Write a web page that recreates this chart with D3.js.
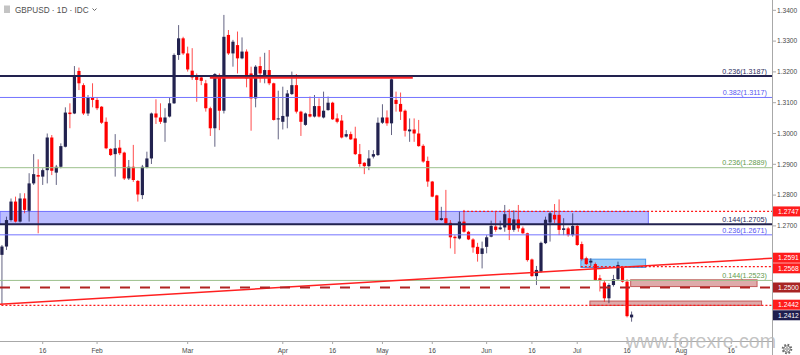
<!DOCTYPE html>
<html><head><meta charset="utf-8">
<script src="https://cdn.jsdelivr.net/npm/d3@7"></script>
<style>
body{margin:0;background:#fff;}
svg{display:block;font-family:"Liberation Sans",Arial,sans-serif;}
</style>
</head><body>
<svg id="chart" width="800" height="355"></svg>
<script>
// ---- Daily GBPUSD candles, 3 Jan 2019 (index 0) .. 17 Jul 2019 (index 139) ----
const opens = [1.2606,1.2633,1.2719,1.2779,1.2714,1.2789,1.2749,1.2838,1.2865,1.2860,
1.2881,1.2987,1.2873,1.2892,1.2957,1.3068,1.3065,1.3203,1.3157,1.3065,
1.3117,1.3109,1.3087,1.3038,1.2950,1.2933,1.2954,1.2938,1.2854,1.2892,
1.2846,1.2800,1.2890,1.2919,1.3065,1.3052,1.3035,1.3055,1.3098,1.3255,
1.3309,1.3260,1.3204,1.3184,1.3182,1.3163,1.3082,1.3017,1.3190,1.3074,
1.3320,1.3260,1.3287,1.3244,1.3266,1.3195,1.3114,1.3219,1.3190,1.3206,
1.3163,1.3046,1.3038,1.3055,1.3128,1.3157,1.3071,1.3028,1.3063,1.3055,
1.3089,1.3052,1.3076,1.3100,1.3049,1.3042,1.2990,1.2998,1.2984,1.2933,
1.2905,1.2894,1.2925,1.2930,1.3035,1.3052,1.3033,1.3109,1.3096,1.3074,
1.3007,1.3013,1.3000,1.2960,1.2911,1.2844,1.2799,1.2719,1.2725,1.2710,
1.2665,1.2659,1.2714,1.2681,1.2656,1.2632,1.2609,1.2632,1.2665,1.2698,
1.2689,1.2695,1.2725,1.2687,1.2721,1.2692,1.2676,1.2591,1.2537,1.2551,
1.2644,1.2711,1.2736,1.2736,1.2687,1.2692,1.2670,1.2700,1.2641,1.2595,
1.2581,1.2576,1.2530,1.2516,1.2465,1.2508,1.2527,1.2565,1.2519,1.2403];

const highs = [1.2638,1.2730,1.2789,1.2795,1.2806,1.2806,1.2871,1.2933,1.2916,1.2887,
1.3000,1.2995,1.2898,1.2968,1.3085,1.3098,1.3219,1.3214,1.3163,1.3125,
1.3163,1.3117,1.3089,1.3052,1.2952,1.2998,1.2979,1.2941,1.2914,1.2963,
1.2849,1.2898,1.2941,1.3068,1.3111,1.3098,1.3082,1.3117,1.3260,1.3352,
1.3314,1.3282,1.3277,1.3195,1.3187,1.3174,1.3087,1.3196,1.3195,1.3385,
1.3336,1.3304,1.3331,1.3312,1.3273,1.3217,1.3222,1.3249,1.3262,1.3271,
1.3165,1.3139,1.3152,1.3141,1.3201,1.3193,1.3074,1.3068,1.3120,1.3125,
1.3114,1.3136,1.3120,1.3103,1.3065,1.3060,1.3011,1.3006,1.3022,1.2966,
1.2907,1.2946,1.2946,1.3052,1.3095,1.3075,1.3179,1.3136,1.3133,1.3078,
1.3049,1.3049,1.3044,1.2965,1.2925,1.2846,1.2801,1.2762,1.2817,1.2719,
1.2670,1.2746,1.2752,1.2684,1.2660,1.2645,1.2649,1.2670,1.2717,1.2746,
1.2717,1.2768,1.2754,1.2751,1.2768,1.2698,1.2678,1.2594,1.2570,1.2649,
1.2730,1.2746,1.2771,1.2786,1.2725,1.2697,1.2741,1.2708,1.2649,1.2600,
1.2595,1.2581,1.2541,1.2524,1.2514,1.2541,1.2584,1.2570,1.2527,1.2422];

const lows = [1.2446,1.2622,1.2714,1.2711,1.2711,1.2741,1.2714,1.2833,1.2676,1.2833,
1.2838,1.2865,1.2833,1.2887,1.2955,1.3017,1.3063,1.3141,1.3060,1.3057,
1.3085,1.3076,1.3031,1.2949,1.2927,1.2860,1.2930,1.2849,1.2849,1.2843,
1.2779,1.2787,1.2887,1.2901,1.3031,1.3031,1.2973,1.3052,1.3096,1.3239,
1.3255,1.3201,1.3174,1.3103,1.3157,1.3071,1.2992,1.2957,1.3011,1.3065,
1.3255,1.3217,1.3195,1.3241,1.3150,1.3009,1.3085,1.3165,1.3163,1.3157,
1.3042,1.2981,1.3013,1.3017,1.3125,1.3065,1.2992,1.3025,1.3052,1.3052,
1.3052,1.3049,1.3074,1.3044,1.3033,1.2984,1.2987,1.2979,1.2930,1.2892,
1.2868,1.2881,1.2919,1.2927,1.3031,1.3025,1.2995,1.3071,1.3044,1.2990,
1.2973,1.2973,1.2957,1.2905,1.2827,1.2793,1.2717,1.2717,1.2706,1.2627,
1.2609,1.2656,1.2678,1.2654,1.2613,1.2584,1.2562,1.2611,1.2663,1.2681,
1.2687,1.2681,1.2654,1.2681,1.2681,1.2674,1.2584,1.2535,1.2508,1.2548,
1.2641,1.2649,1.2709,1.2670,1.2670,1.2665,1.2665,1.2635,1.2587,1.2573,
1.2570,1.2522,1.2487,1.2454,1.2449,1.2503,1.2524,1.2516,1.2403,1.2389];

const closes = [1.2633,1.2719,1.2779,1.2714,1.2789,1.2752,1.2838,1.2868,1.2860,1.2881,
1.2987,1.2879,1.2892,1.2959,1.3068,1.3063,1.3190,1.3163,1.3065,1.3117,
1.3109,1.3082,1.3035,1.2952,1.2930,1.2952,1.2936,1.2854,1.2892,1.2849,
1.2802,1.2892,1.2919,1.3065,1.3052,1.3038,1.3052,1.3098,1.3255,1.3309,
1.3260,1.3208,1.3182,1.3174,1.3171,1.3082,1.3017,1.3193,1.3074,1.3314,
1.3260,1.3298,1.3244,1.3266,1.3179,1.3114,1.3217,1.3195,1.3206,1.3163,
1.3044,1.3049,1.3057,1.3130,1.3157,1.3071,1.3038,1.3065,1.3055,1.3089,
1.3055,1.3074,1.3100,1.3046,1.3038,1.2987,1.2998,1.2981,1.2933,1.2901,
1.2894,1.2919,1.2933,1.3035,1.3052,1.3033,1.3176,1.3096,1.3071,1.3009,
1.3013,1.3000,1.2959,1.2909,1.2844,1.2795,1.2719,1.2725,1.2708,1.2663,
1.2660,1.2714,1.2681,1.2656,1.2630,1.2609,1.2627,1.2663,1.2700,1.2687,
1.2695,1.2738,1.2687,1.2721,1.2692,1.2676,1.2589,1.2537,1.2557,1.2645,
1.2720,1.2741,1.2721,1.2687,1.2692,1.2670,1.2700,1.2638,1.2592,1.2576,
1.2587,1.2524,1.2522,1.2465,1.2508,1.2527,1.2573,1.2519,1.2407,1.2412];

// ---- axis ticks ----
const priceTicks = [1.24,1.25,1.26,1.27,1.28,1.29,1.30,1.31,1.32,1.33,1.34];
const timeTickIndex  = [9, 21, 41, 62, 73, 84, 95, 107, 117, 127, 138, 150, 161];
const timeTickLabels = ["16","Feb","Mar","Apr","16","May","16","Jun","16","Jul","16","Aug","16"];

// ---- drawings ----
const fibValues = [1.3187, 1.3117, 1.2889, 1.2705, 1.2671, 1.2523];
const fibLabels = ["0.236(1.3187)","0.382(1.3117)","0.236(1.2889)","0.144(1.2705)","0.236(1.2671)","0.144(1.2523)"];
const fibKinds  = ["navy","blue","green","navy","blue","green"];

const zoneTop = [1.2747], zoneBottom = [1.2705], zoneEnd = [142.7];           // blue zone
const skyBox = {from:127.8, to:142.1, top:1.2592, bottom:1.2565};             // light-blue box
const roseBoxes = [{from:138.8, to:166.7, top:1.2525, bottom:1.2503},
                   {from:129.8, to:167.7, top:1.2456, bottom:1.2442}];
const resistSeg = {from:45.9, to:90.7, value:1.3181};                          // red segment
const trendFrom = [0, 1.2446], trendTo = [170, 1.2595];                       // rising trendline
const dottedValues = [1.2747, 1.2568, 1.2442];
const dottedStart  = [101.8, 127.8, -1];
const dashedValue = 1.2500;

const tagValues = [1.2747, 1.2591, 1.2568, 1.2500, 1.2442, 1.2412];
const tagKinds  = ["red","red","red","dark","red","last"];

// ---- layout ----
const W = 800, H = 355, plotW = 772, plotH = 341;
const svg = d3.select("#chart");
const x = d3.scaleLinear().domain([-0.43, 170]).range([0, plotW]);
const y = d3.scaleLinear().domain([1.23263, 1.343344]).range([plotH, 0]);

const C = {navy:"#22224f", red:"#ff0000", blue:"#7373ff", blueText:"#5555f0",
  green:"#9cc08c", greenText:"#5f9a4c", axis:"#a8a8a8", text:"#4a4a4a"};

svg.append("rect").attr("width",W).attr("height",H).attr("fill","#fff");
svg.append("defs").append("clipPath").attr("id","plot")
  .append("rect").attr("width",plotW).attr("height",plotH);
const g = svg.append("g").attr("clip-path","url(#plot)");

// zones under candles
g.append("rect")
  .attr("x", x(-0.43)).attr("width", x(zoneEnd[0]) - x(-0.43))
  .attr("y", y(zoneTop[0])).attr("height", y(zoneBottom[0]) - y(zoneTop[0]))
  .attr("fill","rgba(110,115,255,0.47)").attr("stroke","#7070ff").attr("stroke-width",1);
g.append("rect")
  .attr("x", x(skyBox.from)).attr("width", x(skyBox.to)-x(skyBox.from))
  .attr("y", y(skyBox.top)).attr("height", y(skyBox.bottom)-y(skyBox.top))
  .attr("fill","rgba(70,160,240,0.55)").attr("stroke","#4a98e8").attr("stroke-width",1);
g.selectAll("rect.rose").data(roseBoxes).join("rect").attr("class","rose")
  .attr("x", d=>x(d.from)).attr("width", d=>x(d.to)-x(d.from))
  .attr("y", d=>y(d.top)).attr("height", d=>y(d.bottom)-y(d.top))
  .attr("fill","rgba(190,85,85,0.5)").attr("stroke","#c45a5a").attr("stroke-width",1);

// candles
const candles = opens.map((o,i)=>({i, o, h:highs[i], l:lows[i], c:closes[i]}));
const bw = 3.2;
const cg = g.append("g");
cg.selectAll("line.wick").data(candles).join("line").attr("class","wick")
  .attr("x1", d=>x(d.i)).attr("x2", d=>x(d.i))
  .attr("y1", d=>y(d.h)).attr("y2", d=>y(d.l))
  .attr("stroke", d=> d.c>=d.o ? C.navy : C.red).attr("stroke-width",1).attr("stroke-opacity",0.7);
cg.selectAll("rect.body").data(candles).join("rect").attr("class","body")
  .attr("x", d=>x(d.i)-bw/2).attr("width", bw)
  .attr("y", d=>y(Math.max(d.o,d.c)))
  .attr("height", d=>Math.max(1, Math.abs(y(d.o)-y(d.c))))
  .attr("fill", d=> d.c>=d.o ? C.navy : C.red);

// fib lines
const fib = fibValues.map((v,k)=>({v, label:fibLabels[k], kind:fibKinds[k]}));
const lineColor = k => k==="navy"?C.navy : k==="blue"?C.blue : C.green;
const textColor = k => k==="navy"?"#2a2a5c" : k==="blue"?C.blueText : C.greenText;
g.selectAll("line.fib").data(fib).join("line").attr("class","fib")
  .attr("x1",0).attr("x2",plotW).attr("y1",d=>y(d.v)).attr("y2",d=>y(d.v))
  .attr("stroke",d=>lineColor(d.kind)).attr("stroke-width",d=>d.kind==="navy"?2:1);

// red resistance segment
g.append("line").attr("x1",x(resistSeg.from)).attr("x2",x(resistSeg.to))
  .attr("y1",y(resistSeg.value)).attr("y2",y(resistSeg.value))
  .attr("stroke","#ff2424").attr("stroke-width",2);

// trendline extended over the plot
const slope = (trendTo[1]-trendFrom[1])/(trendTo[0]-trendFrom[0]);
const tAt = i => trendFrom[1] + slope*(i-trendFrom[0]);
g.append("line").attr("x1",x(-0.43)).attr("x2",x(170))
  .attr("y1",y(tAt(-0.43))).attr("y2",y(tAt(170)))
  .attr("stroke","#ff2020").attr("stroke-width",1.5);

// dotted red lines
g.selectAll("line.dot").data(dottedValues.map((v,k)=>({v, s:dottedStart[k]}))).join("line")
  .attr("class","dot").attr("x1",d=>x(d.s)).attr("x2",plotW)
  .attr("y1",d=>y(d.v)).attr("y2",d=>y(d.v))
  .attr("stroke","#ff1a1a").attr("stroke-width",1.2).attr("stroke-dasharray","2,2");

// dashed 1.2500
g.append("line").attr("x1",0).attr("x2",plotW).attr("y1",y(dashedValue)).attr("y2",y(dashedValue))
  .attr("stroke","#b22222").attr("stroke-width",2).attr("stroke-dasharray","10,10");

// fib labels
svg.selectAll("text.fibl").data(fib).join("text").attr("class","fibl")
  .attr("x",767).attr("y",d=>y(d.v)-2.3).attr("text-anchor","end")
  .attr("font-size",7.2).attr("fill",d=>textColor(d.kind)).text(d=>d.label);

// price tags on the right axis (positions resolved first)
const tags = tagValues.map((v,k)=>({v, kind:tagKinds[k], cy:y(v)})).sort((a,b)=>a.cy-b.cy);
for (let k=1;k<tags.length;k++){
  const gap = tags[k].cy - tags[k-1].cy;
  if (gap < 10.6){ const p=(10.6-gap)/2; tags[k-1].cy-=p; tags[k].cy+=p; }
}

// axes
svg.append("line").attr("x1",plotW+0.5).attr("x2",plotW+0.5).attr("y1",0).attr("y2",H)
  .attr("stroke",C.axis).attr("stroke-width",1);
svg.append("line").attr("x1",0).attr("x2",plotW).attr("y1",plotH+0.5).attr("y2",plotH+0.5)
  .attr("stroke",C.axis).attr("stroke-width",1);
const ya = svg.append("g");
ya.selectAll("line").data(priceTicks).join("line")
  .attr("x1",plotW).attr("x2",plotW+4).attr("y1",d=>y(d)).attr("y2",d=>y(d))
  .attr("stroke",C.axis);
// tick labels hidden where a price tag sits on top of them (as in the platform)
const visibleTicks = priceTicks.filter(t => tags.every(tg => Math.abs(tg.cy - y(t)) > 8));
ya.selectAll("text").data(visibleTicks).join("text")
  .attr("x",777).attr("y",d=>y(d)).attr("dy","0.35em")
  .attr("font-size",6.6).attr("fill",C.text).text(d=>d3.format(".4f")(d));
const xa = svg.append("g");
xa.selectAll("line").data(timeTickIndex).join("line")
  .attr("x1",d=>x(d)).attr("x2",d=>x(d)).attr("y1",plotH).attr("y2",plotH+3)
  .attr("stroke",C.axis);
xa.selectAll("text").data(timeTickIndex).join("text")
  .attr("x",d=>x(d)).attr("y",353).attr("text-anchor","middle")
  .attr("font-size",6.6).attr("fill",C.text).text((d,k)=>timeTickLabels[k]);

const tagFill = k => k==="dark" ? "#a82424" : k==="last" ? "#1e1e4e" : "#ff1c1c";
const tg = svg.append("g");
tg.selectAll("rect").data(tags).join("rect")
  .attr("x",plotW+1).attr("width",W-plotW-1).attr("y",d=>d.cy-5).attr("height",10)
  .attr("fill",d=>tagFill(d.kind));
tg.selectAll("text").data(tags).join("text")
  .attr("x",778).attr("y",d=>d.cy).attr("dy","0.36em")
  .attr("font-size",6.8).attr("fill","#fff").text(d=>d3.format(".4f")(d.v));

// title
svg.append("rect").attr("x",4).attr("y",5.5).attr("width",6).attr("height",7.5).attr("fill","#c4c4c4");
svg.append("text").attr("x",15).attr("y",12.5).attr("font-size",8.2).attr("fill","#4f4f4f")
  .text("GBPUSD \u00b7 1D \u00b7 IDC");
svg.append("path").attr("d","M92.5,8.5 L94.5,10.5 L96.5,8.5").attr("fill","none")
  .attr("stroke","#666").attr("stroke-width",1);

// watermark
svg.append("text").attr("x",776).attr("y",347.5).attr("text-anchor","end")
  .attr("font-size",20.5).attr("fill","#b8b8b8").attr("fill-opacity",0.85)
  .attr("textLength",150).attr("lengthAdjust","spacingAndGlyphs")
  .text("www.forexre.com");

// gear icon
const gear = svg.append("g").attr("transform","translate(787,349)");
gear.append("circle").attr("r",4.3).attr("fill","none").attr("stroke","#6a6a6a")
  .attr("stroke-width",2).attr("stroke-dasharray","1.7,1.68");
gear.append("circle").attr("r",3.2).attr("fill","#fff").attr("stroke","#6a6a6a").attr("stroke-width",0.9);
gear.append("circle").attr("r",1.3).attr("fill","none").attr("stroke","#6a6a6a").attr("stroke-width",0.8);
</script>
</body></html>
